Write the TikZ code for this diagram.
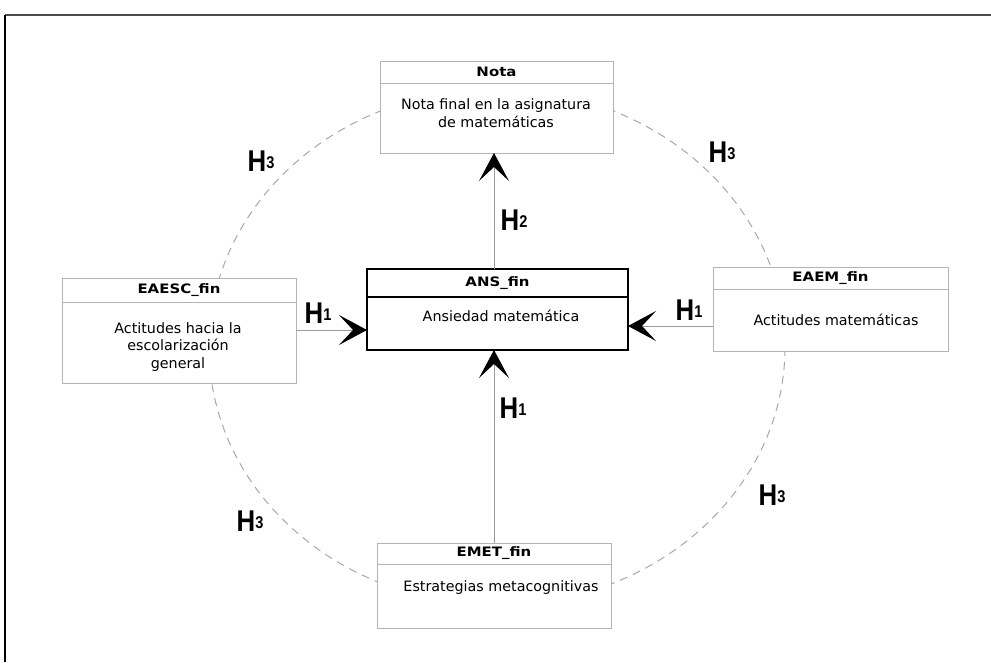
\documentclass[tikz,border=0pt]{standalone}
\usepackage{fontspec}
\setmainfont{DejaVu Sans}
\newfontfamily\titlefont[FakeStretch=1.15]{DejaVu Sans}
\newfontfamily\hfont[FakeStretch=0.86]{Liberation Sans}
\usetikzlibrary{arrows.meta,calc}
\definecolor{boxgray}{HTML}{B4B4B4}
\definecolor{linegray}{HTML}{9A9A9A}
\definecolor{dashgray}{HTML}{A8A8A8}
\begin{document}
\begin{tikzpicture}[x=1pt,y=-1pt,
  box/.style={draw=boxgray, line width=1pt, fill=white, inner sep=0pt, outer sep=0pt, anchor=north west},
  mainbox/.style={draw=black, line width=2.6pt, fill=white, inner sep=0pt, outer sep=0pt, anchor=north west},
  sepline/.style={draw=boxgray, line width=1pt},
  mainsep/.style={draw=black, line width=2pt},
  title/.style={font=\titlefont\bfseries\fontsize{13}{15}\selectfont, inner sep=0pt},
  body/.style={font=\fontsize{14.3}{18.5}\selectfont, align=center, inner sep=0pt},
  conn/.style={draw=linegray, line width=1pt, -{Stealth[length=28pt,width=30pt,inset=14pt,black]}},
  hlab/.style={font=\hfont\bfseries\fontsize{30}{30}\selectfont, inner sep=0pt},
]
\useasboundingbox (0,0) rectangle (991,662);
\fill[white] (0,0) rectangle (991,662);

% frame
\draw[line width=1.5pt, color=black!70] (5,15) -- (991,15);
\draw[line width=1.2pt, color=black] (5,15) -- (5,662);

% dashed ring
\draw[draw=dashgray, line width=1pt, dash pattern=on 8pt off 6pt] (497,347) ellipse [x radius=288pt, y radius=258pt];

% boxes
\node[box, minimum width=233pt, minimum height=92pt] (nota) at (380,61) {};
\draw[sepline] ($(nota.north west)+(0,22)$) -- ($(nota.north east)+(0,22)$);
\node[title] (notaT) at ($(nota.north)+(0,11)$) {Nota};
\node[body] (notaB) at (496,113) {Nota final en la asignatura\\de matemáticas};

\node[box, minimum width=234pt, minimum height=105pt] (eaesc) at (62,278) {};
\draw[sepline] ($(eaesc.north west)+(0,24)$) -- ($(eaesc.north east)+(0,24)$);
\node[title] (eaescT) at ($(eaesc.north)+(0,12)$) {EAESC\_fin};
\node[body, font=\fontsize{14.3}{17.5}\selectfont] (eaescB) at (178,347) {Actitudes hacia la\\escolarización\\general};

\node[box, minimum width=235pt, minimum height=84pt] (eaem) at (713,267) {};
\draw[sepline] ($(eaem.north west)+(0,22)$) -- ($(eaem.north east)+(0,22)$);
\node[title] (eaemT) at ($(eaem.north)+(0,11)$) {EAEM\_fin};
\node[body] (eaemB) at (836,320) {Actitudes matemáticas};

\node[box, minimum width=234pt, minimum height=85pt] (emet) at (377,543) {};
\draw[sepline] ($(emet.north west)+(0,21)$) -- ($(emet.north east)+(0,21)$);
\node[title] (emetT) at ($(emet.north)+(0,10.5)$) {EMET\_fin};
\node[body] (emetB) at (501,588) {Estrategias metacognitivas};

\node[mainbox, minimum width=261pt, minimum height=81pt] (ans) at (367,269) {};
\draw[mainsep] ($(ans.north west)+(0,28)$) -- ($(ans.north east)+(0,28)$);
\node[title] (ansT) at ($(ans.north)+(0,14)$) {ANS\_fin};
\node[body] (ansB) at (501,316) {Ansiedad matemática};

% connectors
\coordinate (xv) at (494,0);
\coordinate (yl) at (0,330);
\coordinate (yr) at (0,326);
\draw[conn] (ans.north -| xv) -- (nota.south -| xv);
\draw[conn] (emet.north -| xv) -- (ans.south -| xv);
\draw[conn] (eaesc.east |- yl) -- (ans.west |- yl);
\draw[conn] (eaem.west |- yr) -- (ans.east |- yr);

% labels
\node[hlab] (h3a) at (261,161) {H\raisebox{3pt}{\fontsize{17}{17}\selectfont 3}};
\node[hlab] (h3b) at (722,152) {H\raisebox{3pt}{\fontsize{17}{17}\selectfont 3}};
\node[hlab] (h3c) at (250,521) {H\raisebox{3pt}{\fontsize{17}{17}\selectfont 3}};
\node[hlab] (h3d) at (772,495) {H\raisebox{3pt}{\fontsize{17}{17}\selectfont 3}};
\node[hlab] (h2) at (514,220) {H\raisebox{3pt}{\fontsize{17}{17}\selectfont 2}};
\node[hlab] (h1a) at (318,313) {H\raisebox{3pt}{\fontsize{17}{17}\selectfont 1}};
\node[hlab] (h1b) at (689,310) {H\raisebox{3pt}{\fontsize{17}{17}\selectfont 1}};
\node[hlab] (h1c) at (513,408) {H\raisebox{3pt}{\fontsize{17}{17}\selectfont 1}};
\end{tikzpicture}
\end{document}
